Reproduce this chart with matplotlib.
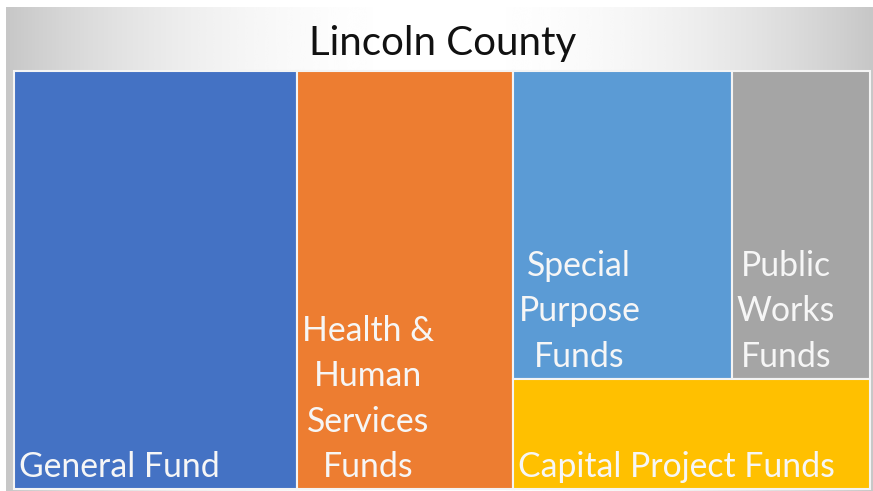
import numpy as np
import matplotlib
matplotlib.use("Agg")
import matplotlib.pyplot as plt
from matplotlib.patches import Rectangle

# ---- data ----
title = "Lincoln County"
categories = ["General Fund",
              "Health &\nHuman\nServices\nFunds",
              "Special\nPurpose\nFunds",
              "Public\nWorks\nFunds",
              "Capital Project Funds"]
values = [33.1, 25.3, 18.8, 11.9, 11.0]
colors = ["#4472C4", "#ED7D31", "#5B9BD5", "#A5A5A5", "#FFC000"]

W_PX, H_PX = 873, 491
fig = plt.figure(figsize=(W_PX / 100, H_PX / 100), dpi=100)
ax = fig.add_axes([0, 0, 1, 1])
ax.set_xlim(0, W_PX)
ax.set_ylim(H_PX, 0)
ax.axis("off")

# background gradient (dark at edges, white in the middle)
xs = np.linspace(-1, 1, 400)
g = 1.0 - 0.22 * np.abs(xs) ** 2.2
grad = np.tile(g, (2, 1))
ax.imshow(grad, cmap="gray", vmin=0, vmax=1, extent=(6, W_PX, H_PX, 7),
          aspect="auto", interpolation="bicubic", zorder=0)

ax.text(443, 43, title, ha="center", va="center", fontsize=29,
        family="Lato", color="#111111", zorder=3)

# ---- treemap layout computed from values ----
X0, X1, Y0, Y1 = 14, 870, 71, 489
W, H = X1 - X0, Y1 - Y0
T = sum(values)
rects = []
x = X0
for v in values[:2]:
    w = W * v / T
    rects.append((x, Y0, w, H))
    x += w
rest_w = X1 - x
top_sum = values[2] + values[3]
rest_sum = top_sum + values[4]
top_h = H * top_sum / rest_sum
xx = x
for v in values[2:4]:
    w = rest_w * v / top_sum
    rects.append((xx, Y0, w, top_h))
    xx += w
rects.append((x, Y0 + top_h, rest_w, H - top_h))

for (rx, ry, rw, rh), c, lab in zip(rects, colors, categories):
    ax.add_patch(Rectangle((rx, ry), rw, rh, facecolor=c, edgecolor="#f4f4f4",
                           linewidth=1.5, zorder=2))
    ax.text(rx + 5, ry + rh - 6, lab, ha="left", va="bottom",
            multialignment="center", fontsize=24.3, family="Lato",
            color="#f6f6f6", linespacing=1.51, zorder=3)

fig.savefig("out.png", dpi=100)
